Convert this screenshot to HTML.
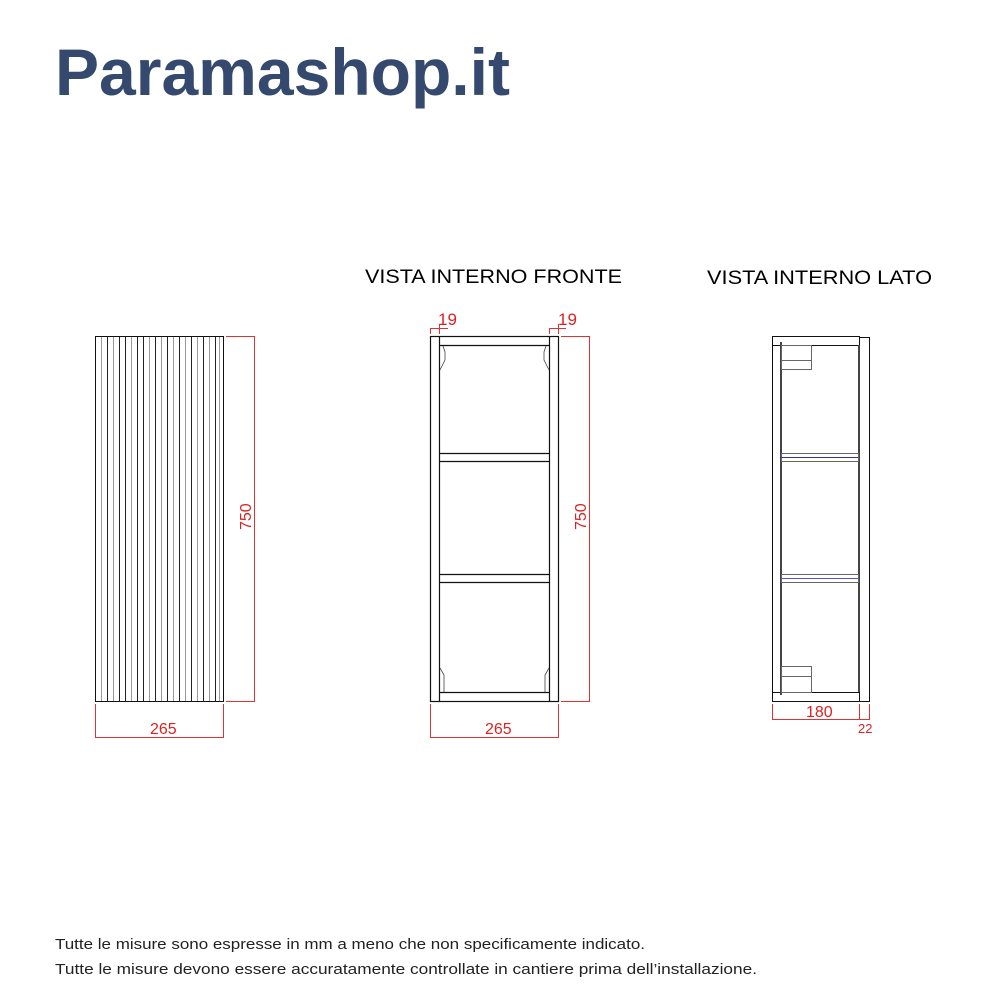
<!DOCTYPE html>
<html><head><meta charset="utf-8"><style>html,body{margin:0;padding:0;background:#fff}svg{display:block}</style></head>
<body>
<svg width="1000" height="1000" viewBox="0 0 1000 1000" xmlns="http://www.w3.org/2000/svg" font-family="Liberation Sans, sans-serif">
<text x="55" y="95" font-size="66" font-weight="bold" fill="#34496d" textLength="455" lengthAdjust="spacingAndGlyphs">Paramashop.it</text>
<text x="365" y="283" font-size="19" fill="#000" textLength="257" lengthAdjust="spacingAndGlyphs">VISTA INTERNO FRONTE</text>
<text x="707" y="284" font-size="19" fill="#000" textLength="225" lengthAdjust="spacingAndGlyphs">VISTA INTERNO LATO</text>

<g stroke="#111" stroke-width="1" fill="none">
<rect x="95.5" y="336.5" width="128" height="365"/>
</g>
<g stroke-width="1">
<line x1="101.5" y1="337" x2="101.5" y2="701" stroke="#999"/>
<line x1="107.5" y1="337" x2="107.5" y2="701" stroke="#222"/>
<line x1="113.5" y1="337" x2="113.5" y2="701" stroke="#999"/>
<line x1="119.5" y1="337" x2="119.5" y2="701" stroke="#222"/>
<line x1="125.5" y1="337" x2="125.5" y2="701" stroke="#222"/>
<line x1="131.5" y1="337" x2="131.5" y2="701" stroke="#999"/>
<line x1="137.5" y1="337" x2="137.5" y2="701" stroke="#222"/>
<line x1="143.5" y1="337" x2="143.5" y2="701" stroke="#222"/>
<line x1="149.5" y1="337" x2="149.5" y2="701" stroke="#999"/>
<line x1="155.5" y1="337" x2="155.5" y2="701" stroke="#222"/>
<line x1="161.5" y1="337" x2="161.5" y2="701" stroke="#999"/>
<line x1="167.5" y1="337" x2="167.5" y2="701" stroke="#222"/>
<line x1="173.5" y1="337" x2="173.5" y2="701" stroke="#999"/>
<line x1="179.5" y1="337" x2="179.5" y2="701" stroke="#222"/>
<line x1="185.5" y1="337" x2="185.5" y2="701" stroke="#999"/>
<line x1="191.5" y1="337" x2="191.5" y2="701" stroke="#222"/>
<line x1="197.5" y1="337" x2="197.5" y2="701" stroke="#999"/>
<line x1="203.5" y1="337" x2="203.5" y2="701" stroke="#222"/>
<line x1="209.5" y1="337" x2="209.5" y2="701" stroke="#999"/>
<line x1="215.5" y1="337" x2="215.5" y2="701" stroke="#222"/>
<line x1="219.5" y1="337" x2="219.5" y2="701" stroke="#999"/>
</g>
<g stroke="#d33" stroke-width="1" fill="none">
<polyline points="226,336.5 254.5,336.5 254.5,701.5 226,701.5"/>
<polyline points="95.5,704 95.5,737.5 223.5,737.5 223.5,704"/>
<polyline points="430.5,704 430.5,737.5 558.5,737.5 558.5,704"/>
<polyline points="561,336.5 589.5,336.5 589.5,701.5 561,701.5"/>
<polyline points="430.5,334 430.5,328.5 448,328.5"/>
<line x1="439.5" y1="334" x2="439.5" y2="324"/>
<polyline points="549.5,334 549.5,328.5 566,328.5"/>
<line x1="558.5" y1="334" x2="558.5" y2="324"/>
<polyline points="772.5,704 772.5,719.5 869.5,719.5 869.5,704"/>
<line x1="859.5" y1="704" x2="859.5" y2="719"/>
</g>
<g fill="#d22" font-size="16">
<text x="150" y="734">265</text>
<text x="485" y="734">265</text>
<text x="806" y="717">180</text>
<text x="858" y="733" font-size="13">22</text>
<text x="438" y="325" font-size="17">19</text>
<text x="558" y="325" font-size="17">19</text>
<text transform="translate(251,530) rotate(-90)" x="0" y="0">750</text>
<text transform="translate(586,530) rotate(-90)" x="0" y="0">750</text>
</g>

<g stroke="#111" stroke-width="1.2" fill="none">
<rect x="430.5" y="336.5" width="128" height="365"/>
<line x1="439.5" y1="337" x2="439.5" y2="701"/>
<line x1="549.5" y1="337" x2="549.5" y2="701"/>
<line x1="439.5" y1="345.5" x2="549.5" y2="345.5"/>
<line x1="439.5" y1="692.5" x2="549.5" y2="692.5"/>
<line x1="439.5" y1="453.5" x2="549.5" y2="453.5"/>
<line x1="439.5" y1="461.5" x2="549.5" y2="461.5"/>
<line x1="439.5" y1="574.5" x2="549.5" y2="574.5"/>
<line x1="439.5" y1="582.5" x2="549.5" y2="582.5"/>
</g>
<g stroke="#444" stroke-width="0.8" fill="none">
<polyline points="443,346 445,352 445,360 440,370"/>
<polyline points="546,346 544,352 544,360 549,370"/>
<polyline points="440,668 444,675 444,692"/>
<polyline points="549,668 545,675 545,692"/>
</g>

<g stroke="#111" stroke-width="1" fill="none">
<rect x="772.5" y="336.5" width="87" height="365"/>
<line x1="772.5" y1="345.5" x2="859.5" y2="345.5"/>
<line x1="772.5" y1="692.5" x2="859.5" y2="692.5"/>
<polyline points="859.5,337.5 869.5,337.5 869.5,701.5 859.5,701.5"/>
</g>
<g stroke="#444" stroke-width="2" fill="none">
<line x1="781" y1="342" x2="781" y2="695"/>
<line x1="859" y1="345" x2="859" y2="692"/>
</g>
<g stroke="#666" stroke-width="1" fill="none">
<rect x="781.5" y="345.5" width="30" height="24"/>
<line x1="781" y1="360.5" x2="811" y2="360.5"/>
<rect x="781.5" y="666.5" width="30" height="26"/>
<line x1="781" y1="676.5" x2="811" y2="676.5"/>
<rect x="781.5" y="453.5" width="77" height="8"/>
<rect x="781.5" y="574.5" width="77" height="8"/>
</g>
<line x1="781" y1="457.5" x2="858" y2="457.5" stroke="#33338a" stroke-width="1"/>
<line x1="781" y1="578.5" x2="858" y2="578.5" stroke="#5555cc" stroke-width="1"/>

<g font-size="14.5" fill="#222">
<text x="55" y="949" textLength="590" lengthAdjust="spacingAndGlyphs">Tutte le misure sono espresse in mm a meno che non specificamente indicato.</text>
<text x="55" y="974" textLength="702" lengthAdjust="spacingAndGlyphs">Tutte le misure devono essere accuratamente controllate in cantiere prima dell’installazione.</text>
</g>
</svg>
</body></html>
